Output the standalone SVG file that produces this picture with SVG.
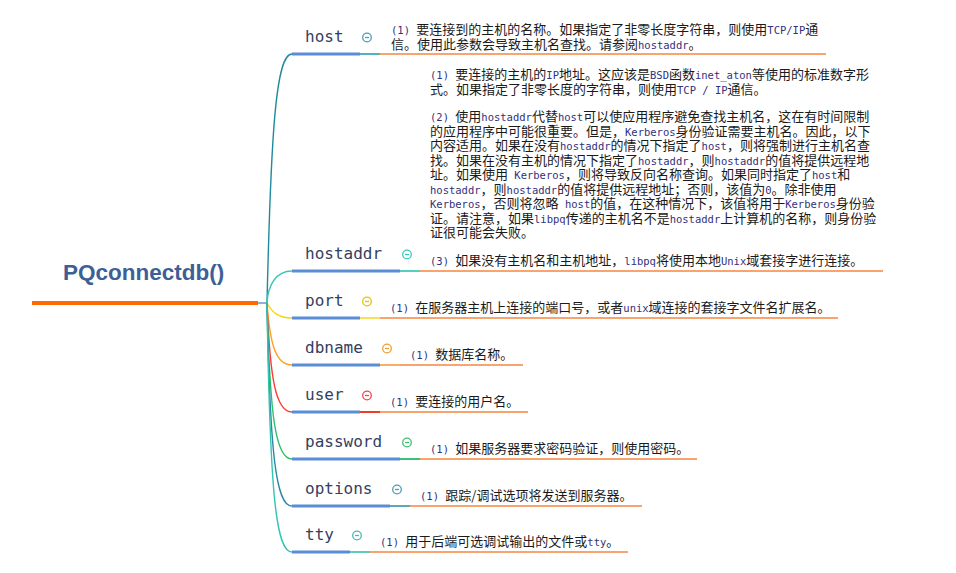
<svg xmlns="http://www.w3.org/2000/svg" width="956" height="573" viewBox="0 0 956 573">
<defs>
<style>
.bg{fill:#ffffff}
.rootline{stroke:#ff6a00;stroke-width:4;fill:none}
.rootlink{stroke:#4a78b8;stroke-width:1.2;fill:none}
.roottext{font-family:"Liberation Sans",Arial,sans-serif;font-weight:bold;font-size:22.5px;fill:#3e5f96}
.br{fill:none;stroke-width:1.4}
.name{font-family:"DejaVu Sans Mono","Liberation Mono",monospace;font-size:16px;fill:#34405e}
.ul{stroke:#5b8dd6;stroke-width:3;fill:none}
.seg{stroke-width:2;fill:none}
.ol{stroke:#f9a46f;stroke-width:2;fill:none}
.ic{fill:#ffffff;stroke-width:1.3}
.icm{stroke-width:1.3}
.d{font-family:"Noto Sans CJK SC","Noto Sans",sans-serif;font-size:13px;fill:#1a1a1a;white-space:pre}
.m{font-family:"DejaVu Sans Mono","Liberation Mono",monospace;font-size:10.5px;fill:#33307a}
</style>
</defs>
<rect class="bg" x="0" y="0" width="956" height="573"/>

<g id="root">
<line class="rootline" x1="32" y1="303" x2="258" y2="303"/>
<text class="roottext" x="63" y="280">PQconnectdb()</text>
</g>

<g id="connectors">
<line class="rootlink" x1="258" y1="303" x2="268" y2="303"/>
<path class="br" stroke="#1f8a9c" d="M267,303 C271,130 276,54 292,54"/>
<path class="br" stroke="#3cc8b0" d="M267,303 C268,285 276,271 292,271"/>
<path class="br" stroke="#f5d414" d="M267,303 C272,312 278,318 292,318"/>
<path class="br" stroke="#ffa020" d="M267,303 C270,345 276,365 292,365"/>
<path class="br" stroke="#ff3a30" d="M267,303 C270,380 276,412 292,412"/>
<path class="br" stroke="#2fc06a" d="M267,303 C270,420 276,459 292,459"/>
<path class="br" stroke="#2a88a6" d="M267,303 C270,455 276,506 292,506"/>
<path class="br" stroke="#33c4b4" d="M267,303 C270,495 276,552 292,552"/>
</g>

<g id="node-host">
<text class="name" x="305" y="42">host</text>
<line class="ul" x1="292" y1="54" x2="360" y2="54"/>
<line class="seg" stroke="#4fb3c0" x1="360" y1="54" x2="380" y2="54"/>
<line class="ol" x1="380" y1="54" x2="826" y2="54"/>
<circle class="ic" stroke="#4aa0b0" cx="367" cy="37.5" r="4.3"/>
<line class="icm" stroke="#4aa0b0" x1="365" y1="37.5" x2="369" y2="37.5"/>
<text class="d" x="391" y="34"><tspan class="m">(1) </tspan>要连接到的主机的名称。如果指定了非零长度字符串，则使用<tspan class="m">TCP/IP</tspan>通</text>
<text class="d" x="391" y="48.5">信。使用此参数会导致主机名查找。请参阅<tspan class="m">hostaddr</tspan>。</text>
</g>

<g id="node-hostaddr">
<text class="name" x="305" y="259">hostaddr</text>
<line class="ul" x1="292" y1="271" x2="400" y2="271"/>
<line class="seg" stroke="#55cfc0" x1="400" y1="271" x2="420" y2="271"/>
<line class="ol" x1="420" y1="271" x2="883" y2="271"/>
<circle class="ic" stroke="#40c8b8" cx="407" cy="254.5" r="4.3"/>
<line class="icm" stroke="#40c8b8" x1="405" y1="254.5" x2="409" y2="254.5"/>
<text class="d" x="430" y="79"><tspan class="m">(1) </tspan>要连接的主机的<tspan class="m">IP</tspan>地址。这应该是<tspan class="m">BSD</tspan>函数<tspan class="m">inet_aton</tspan>等使用的标准数字形</text>
<text class="d" x="430" y="93.5">式。如果指定了非零长度的字符串，则使用<tspan class="m">TCP / IP</tspan>通信。</text>
<text class="d" x="430" y="121"><tspan class="m">(2) </tspan>使用<tspan class="m">hostaddr</tspan>代替<tspan class="m">host</tspan>可以使应用程序避免查找主机名，这在有时间限制</text>
<text class="d" x="430" y="135.5">的应用程序中可能很重要。但是，<tspan class="m">Kerberos</tspan>身份验证需要主机名。因此，以下</text>
<text class="d" x="430" y="150">内容适用。如果在没有<tspan class="m">hostaddr</tspan>的情况下指定了<tspan class="m">host</tspan>，则将强制进行主机名查</text>
<text class="d" x="430" y="164.5">找。如果在没有主机的情况下指定了<tspan class="m">hostaddr</tspan>，则<tspan class="m">hostaddr</tspan>的值将提供远程地</text>
<text class="d" x="430" y="179">址。如果使用<tspan class="m"> Kerberos</tspan>，则将导致反向名称查询。如果同时指定了<tspan class="m">host</tspan>和</text>
<text class="d" x="430" y="193.5"><tspan class="m">hostaddr</tspan>，则<tspan class="m">hostaddr</tspan>的值将提供远程地址；否则，该值为<tspan class="m">0</tspan>。除非使用</text>
<text class="d" x="430" y="208"><tspan class="m">Kerberos</tspan>，否则将忽略<tspan class="m"> host</tspan>的值，在这种情况下，该值将用于<tspan class="m">Kerberos</tspan>身份验</text>
<text class="d" x="430" y="222.5">证。请注意，如果<tspan class="m">libpq</tspan>传递的主机名不是<tspan class="m">hostaddr</tspan>上计算机的名称，则身份验</text>
<text class="d" x="430" y="237">证很可能会失败。</text>
<text class="d" x="430" y="264.5"><tspan class="m">(3) </tspan>如果没有主机名和主机地址，<tspan class="m">libpq</tspan>将使用本地<tspan class="m">Unix</tspan>域套接字进行连接。</text>
</g>

<g id="node-port">
<text class="name" x="305" y="306">port</text>
<line class="ul" x1="292" y1="318" x2="360" y2="318"/>
<line class="seg" stroke="#f7e05a" x1="360" y1="318" x2="380" y2="318"/>
<line class="ol" stroke="#fbb084" x1="380" y1="318" x2="838" y2="318"/>
<circle class="ic" stroke="#e8c000" cx="367" cy="301.5" r="4.3"/>
<line class="icm" stroke="#e8c000" x1="365" y1="301.5" x2="369" y2="301.5"/>
<text class="d" x="390" y="311.5"><tspan class="m">(1) </tspan>在服务器主机上连接的端口号，或者<tspan class="m">unix</tspan>域连接的套接字文件名扩展名。</text>
</g>

<g id="node-dbname">
<text class="name" x="305" y="353">dbname</text>
<line class="ul" x1="292" y1="365" x2="380" y2="365"/>
<line class="seg" stroke="#f8b060" x1="380" y1="365" x2="400" y2="365"/>
<line class="ol" stroke="#f8964a" x1="400" y1="365" x2="523" y2="365"/>
<circle class="ic" stroke="#f0a030" cx="387" cy="348.5" r="4.3"/>
<line class="icm" stroke="#f0a030" x1="385" y1="348.5" x2="389" y2="348.5"/>
<text class="d" x="410" y="358.5"><tspan class="m">(1) </tspan>数据库名称。</text>
</g>

<g id="node-user">
<text class="name" x="305" y="400">user</text>
<line class="ul" x1="292" y1="412" x2="360" y2="412"/>
<line class="seg" stroke="#f03a2a" x1="360" y1="412" x2="380" y2="412"/>
<line class="ol" stroke="#ff6e1e" x1="380" y1="412" x2="528" y2="412"/>
<circle class="ic" stroke="#f04848" cx="367" cy="395.5" r="4.3"/>
<line class="icm" stroke="#f04848" x1="365" y1="395.5" x2="369" y2="395.5"/>
<text class="d" x="390" y="405.5"><tspan class="m">(1) </tspan>要连接的用户名。</text>
</g>

<g id="node-password">
<text class="name" x="305" y="447">password</text>
<line class="ul" x1="292" y1="459" x2="400" y2="459"/>
<line class="seg" stroke="#3cc07a" x1="400" y1="459" x2="420" y2="459"/>
<line class="ol" x1="420" y1="459" x2="697" y2="459"/>
<circle class="ic" stroke="#40c070" cx="407" cy="442.5" r="4.3"/>
<line class="icm" stroke="#40c070" x1="405" y1="442.5" x2="409" y2="442.5"/>
<text class="d" x="430" y="452.5"><tspan class="m">(1) </tspan>如果服务器要求密码验证，则使用密码。</text>
</g>

<g id="node-options">
<text class="name" x="305" y="494">options</text>
<line class="ul" x1="292" y1="506" x2="390" y2="506"/>
<line class="seg" stroke="#5aa8b8" x1="390" y1="506" x2="410" y2="506"/>
<line class="ol" x1="410" y1="506" x2="642" y2="506"/>
<circle class="ic" stroke="#4aa0b0" cx="397" cy="489.5" r="4.3"/>
<line class="icm" stroke="#4aa0b0" x1="395" y1="489.5" x2="399" y2="489.5"/>
<text class="d" x="420" y="499.5"><tspan class="m">(1) </tspan>跟踪/调试选项将发送到服务器。</text>
</g>

<g id="node-tty">
<text class="name" x="305" y="540">tty</text>
<line class="ul" x1="292" y1="552" x2="350" y2="552"/>
<line class="seg" stroke="#5ccabe" x1="350" y1="552" x2="370" y2="552"/>
<line class="ol" stroke="#fbaa78" x1="370" y1="552" x2="628" y2="552"/>
<circle class="ic" stroke="#50b8b0" cx="357" cy="535.5" r="4.3"/>
<line class="icm" stroke="#50b8b0" x1="355" y1="535.5" x2="359" y2="535.5"/>
<text class="d" x="380" y="545.5"><tspan class="m">(1) </tspan>用于后端可选调试输出的文件或<tspan class="m">tty</tspan>。</text>
</g>
</svg>
